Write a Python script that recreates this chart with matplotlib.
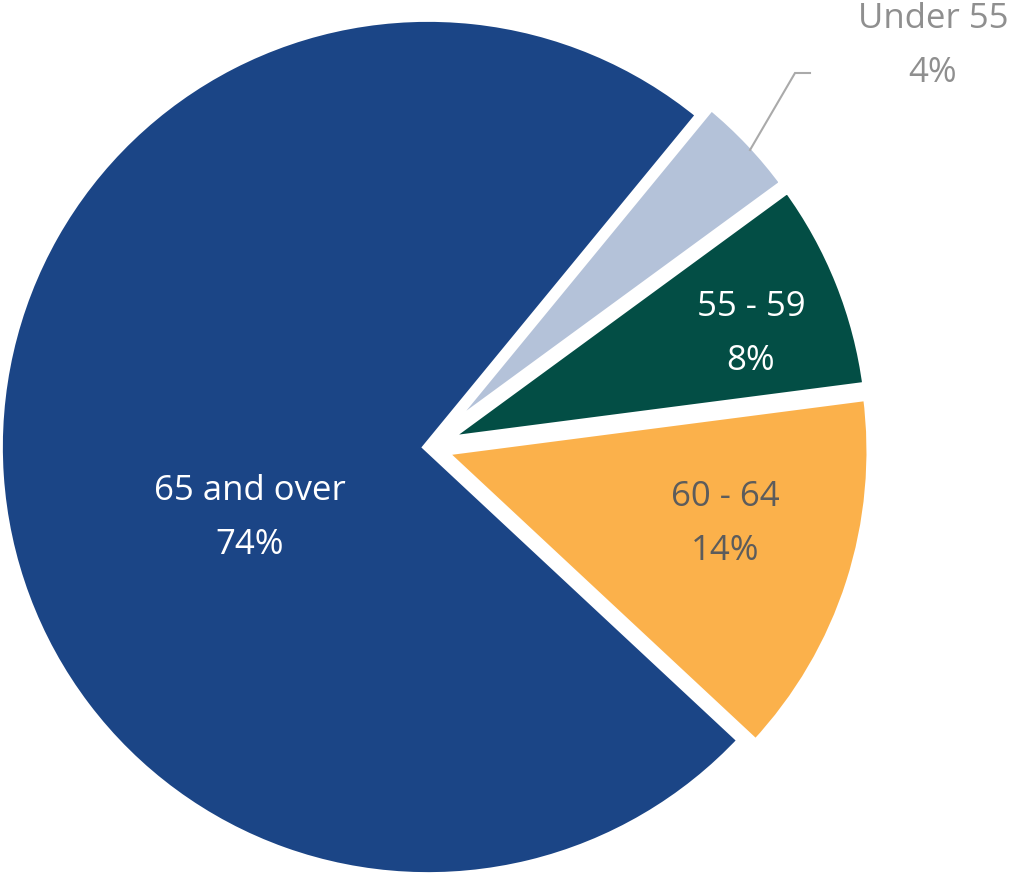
import matplotlib.pyplot as plt

plt.rcParams["font.family"] = ["Open Sans", "DejaVu Sans"]

# data, clockwise from the top-right edge
AGE_GROUPS = ["Under 55", "55 - 59", "60 - 64", "65 and over"]
SHARES = [4, 8, 14, 74]
COLORS = ["#b4c2d9", "#034e45", "#fbb14b", "#1b4586"]
TEXT_COLORS = ["#8f8f8f", "white", "#5c5c5c", "white"]

W, H = 1015, 875
CENTER = (428, H - 447)
RADIUS = 430

# label centres in pixels (x, y from top)
LABEL_POS = [(933, 46), (751, 334), (725, 524), (250, 518)]

fig = plt.figure(figsize=(W / 100, H / 100), dpi=100)
ax = fig.add_axes([0, 0, 1, 1])

# the axes run in pixels, so explode is an offset in pixels
wedges, _ = ax.pie(
    SHARES,
    colors=COLORS,
    startangle=50.6,
    counterclock=False,
    center=CENTER,
    radius=RADIUS,
    explode=[14, 14, 14, 0],
    wedgeprops=dict(edgecolor="white", linewidth=7, joinstyle="miter"),
    frame=True,
)
ax.set_xlim(0, W)
ax.set_ylim(0, H)
ax.set_aspect("equal")
ax.axis("off")

for name, share, col, (px, py) in zip(AGE_GROUPS, SHARES, TEXT_COLORS, LABEL_POS):
    ax.text(px, H - py, f"{name}\n{share}%", color=col, fontsize=25,
            ha="center", va="center", linespacing=1.75)

# leader line for the small slice
ax.plot([750, 795, 810], [H - 150, H - 73, H - 73], color="#aaaaaa",
        linewidth=1.5, solid_joinstyle="miter")

fig.savefig("out.png", dpi=100)
